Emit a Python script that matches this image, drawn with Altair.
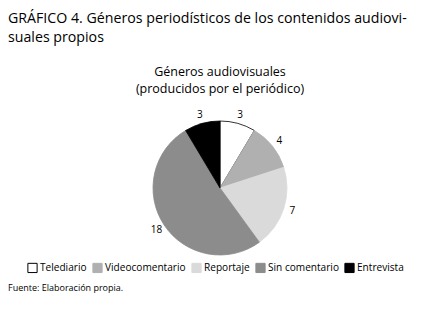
import altair as alt
import pandas as pd

categories = ["Telediario", "Videocomentario", "Reportaje", "Sin comentario", "Entrevista"]
values = [3, 4, 7, 18, 3]
fills = ["#ffffff", "#b0b0b0", "#dadada", "#8c8c8c", "#000000"]
strokes = ["#000000", "#b0b0b0", "#dadada", "#8c8c8c", "#000000"]

title_lines = ["GRÁFICO 4. Géneros periodísticos de los contenidos audiovi-", "suales propios"]
pie_title = ["Géneros audiovisuales", "(producidos por el periódico)"]
source = "Fuente: Elaboración propia."

df = pd.DataFrame({"genero": categories, "n": values, "orden": list(range(len(categories)))})

FONT = "Open Sans"
CX, CY = 212, 180

color = alt.Color("genero:N", scale=alt.Scale(domain=categories, range=fills),
                  legend=alt.Legend(title=None, orient="none", direction="horizontal",
                                    legendX=19, legendY=254, symbolType="square",
                                    symbolSize=85, symbolStrokeWidth=1,
                                    labelFont=FONT, labelFontSize=10.1, labelColor="#000",
                                    columnPadding=3, symbolOffset=0, labelOffset=2))

base = alt.Chart(df).encode(
    theta=alt.Theta("n:Q", stack=True),
    order=alt.Order("orden:Q"),
)

pie = base.mark_arc(radius=67, strokeWidth=0.8).encode(
    x=alt.value(CX), y=alt.value(CY), color=color,
    stroke=alt.Stroke("genero:N", scale=alt.Scale(domain=categories, range=strokes)),
)

labels = base.mark_text(radius=76, font=FONT, fontSize=10, color="#000").encode(
    x=alt.value(CX), y=alt.value(CY), text="n:Q"
)

def txt(lines, x, y, size, align="left", lh=None):
    return alt.Chart(pd.DataFrame({"t": [lines]})).mark_text(
        font=FONT, fontSize=size, align=align, baseline="top", color="#000",
        lineHeight=lh if lh else size * 1.25
    ).encode(text="t:N", x=alt.value(x), y=alt.value(y))

title = txt(title_lines, 0, 4, 14.2, lh=19)
ptitle = txt(pie_title, CX, 58, 12.5, align="center", lh=17)
foot = txt([source], 0, 276, 9)

chart = alt.layer(pie, labels, title, ptitle, foot).properties(
    width=422, height=293, padding=0, autosize="none"
).configure_view(stroke=None).configure_legend(symbolStrokeColor="#000")

chart.save("out.html", embed_options={"renderer": "svg", "actions": False})
